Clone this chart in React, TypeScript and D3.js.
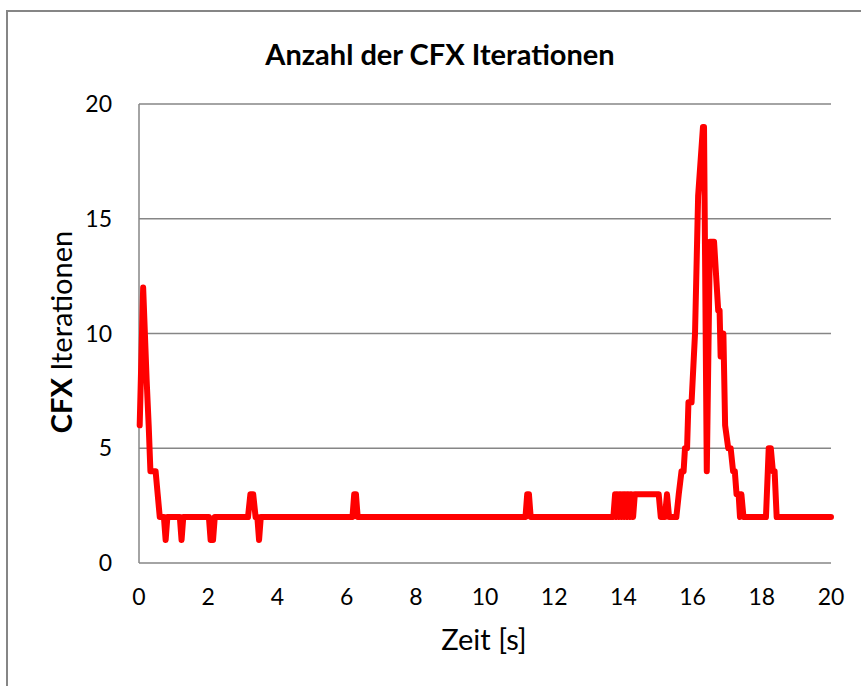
import React from "react";
import * as d3 from "d3";

const zeit: number[] = [
  0.02, 0.12, 0.22, 0.28, 0.33, 0.48, 0.54, 0.6,
  0.72, 0.77, 0.82, 1.18, 1.23, 1.28,
  2.02, 2.07, 2.14, 2.19,
  3.15, 3.22, 3.3, 3.37, 3.42, 3.47, 3.52,
  6.17, 6.22, 6.27, 6.32,
  11.17, 11.22, 11.27, 11.32,
  13.71, 13.76, 13.8, 13.84, 13.88, 13.92, 13.96, 14.0, 14.04, 14.08, 14.12, 14.16, 14.2, 14.24, 14.28, 14.33,
  15.02, 15.08, 15.2, 15.26, 15.32, 15.38,
  15.53, 15.6, 15.68, 15.74, 15.78, 15.84, 15.88, 15.97, 16.07, 16.16, 16.3, 16.33, 16.41,
  16.5, 16.62, 16.74, 16.78, 16.81, 16.89, 16.94, 17.03, 17.1, 17.17, 17.22, 17.27, 17.33, 17.37, 17.41, 17.47,
  18.12, 18.2, 18.26, 18.32, 18.37, 18.43, 20.0,
];

const iterationen: number[] = [
  6, 12, 8, 6, 4, 4, 3, 2,
  2, 1, 2, 2, 1, 2,
  2, 1, 1, 2,
  2, 3, 3, 2, 2, 1, 2,
  2, 3, 3, 2,
  2, 3, 3, 2,
  2, 3, 2, 3, 2, 3, 2, 3, 2, 3, 2, 3, 2, 3, 2, 3,
  3, 2, 2, 3, 2, 2,
  2, 3, 4, 4, 5, 5, 7, 7, 10, 16, 19, 19, 4,
  14, 14, 11, 11, 9, 10, 6, 5, 5, 4, 4, 3, 3, 2, 3, 2,
  2, 5, 5, 4, 4, 2, 2,
];

const xTicks: number[] = [0, 2, 4, 6, 8, 10, 12, 14, 16, 18, 20];
const yTicks: number[] = [0, 5, 10, 15, 20];

const W = 861;
const H = 686;
const FONT = "Lato, 'Open Sans', sans-serif";
const GRID = "#868686";

export default function App() {
  const x = d3.scaleLinear().domain([0, 20]).range([139, 831]);
  const y = d3.scaleLinear().domain([0, 20]).range([563, 104]);
  const pts: [number, number][] = zeit.map((t, i) => [t, iterationen[i]]);
  const line = d3
    .line<[number, number]>()
    .x((d) => x(d[0]))
    .y((d) => y(d[1]));

  return (
    <svg
      width={W}
      height={H}
      style={{ position: "absolute", left: 0, top: 0, display: "block" }}
    >
      <rect x={0} y={0} width={W} height={H} fill="#fff" />
      <rect x={7} y={11} width={W + 20} height={H + 20} fill="#fff" stroke={GRID} strokeWidth={2} />
      <text
        x={440}
        y={65}
        textAnchor="middle"
        fontFamily={FONT}
        fontWeight="bold"
        fontSize={29}
        fill="#000"
      >
        Anzahl der CFX Iterationen
      </text>
      {yTicks.map((v) => (
        <g key={"y" + v}>
          {v > 0 && (
            <line x1={x(0)} x2={x(20)} y1={y(v)} y2={y(v)} stroke={GRID} strokeWidth={1.5} />
          )}
          <text
            x={112}
            y={y(v)}
            dy="0.35em"
            textAnchor="end"
            fontFamily={FONT}
            fontSize={23}
            fill="#000"
          >
            {v}
          </text>
        </g>
      ))}
      <line x1={x(0)} x2={x(0)} y1={y(0)} y2={y(20)} stroke={GRID} strokeWidth={1.5} />
      <line x1={x(0)} x2={x(20)} y1={y(0)} y2={y(0)} stroke={GRID} strokeWidth={1.5} />
      {xTicks.map((v) => (
        <text
          key={"x" + v}
          x={x(v)}
          y={597}
          dy="0.35em"
          textAnchor="middle"
          fontFamily={FONT}
          fontSize={23}
          fill="#000"
        >
          {v}
        </text>
      ))}
      <path
        d={line(pts) || ""}
        fill="none"
        stroke="#ff0000"
        strokeWidth={6}
        strokeLinejoin="round"
        strokeLinecap="round"
      />
      <text
        x={484}
        y={640}
        dy="0.35em"
        textAnchor="middle"
        fontFamily={FONT}
        fontSize={29}
        fill="#000"
      >
        Zeit [s]
      </text>
      <text
        transform={`translate(62,332) rotate(-90)`}
        dy="0.35em"
        textAnchor="middle"
        fontFamily={FONT}
        fontSize={29}
        fill="#000"
      >
        <tspan fontWeight="bold">CFX</tspan> Iterationen
      </text>
    </svg>
  );
}
